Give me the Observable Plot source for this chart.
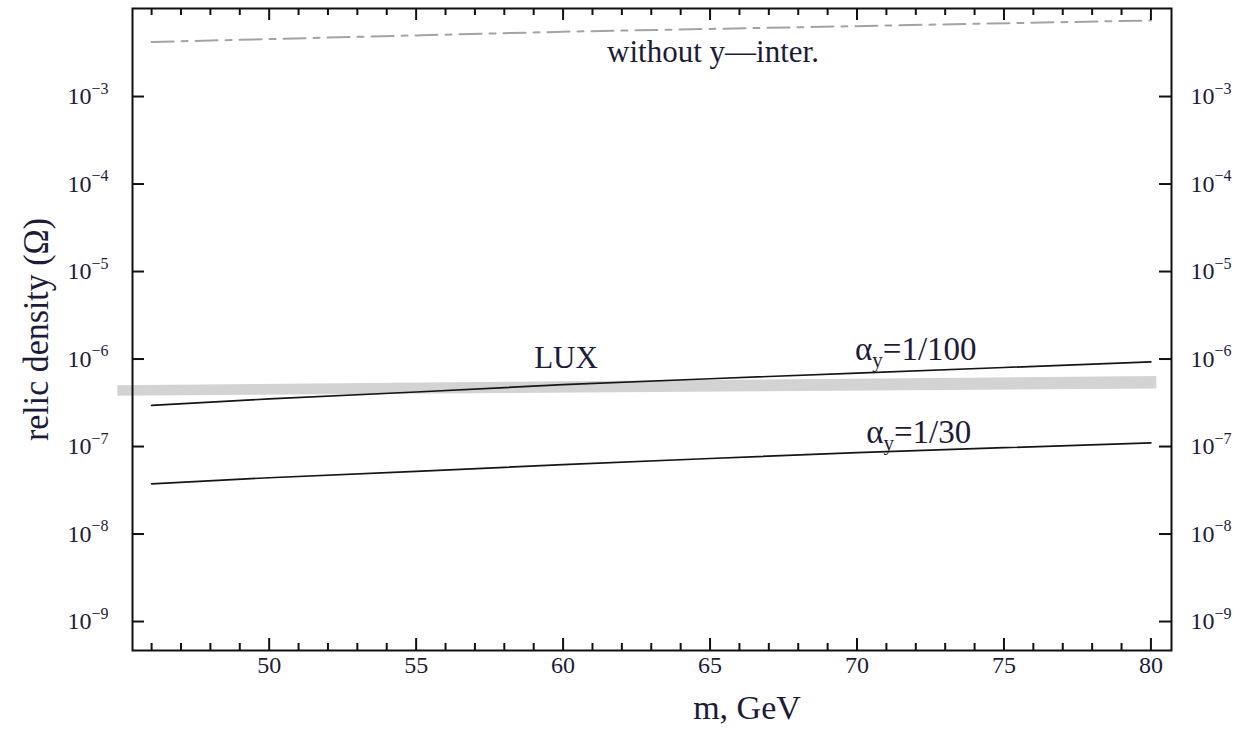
<!DOCTYPE html>
<html><head><meta charset="utf-8">
<script src="https://cdn.jsdelivr.net/npm/d3@7"></script>
<script src="https://cdn.jsdelivr.net/npm/@observablehq/plot@0.6"></script>
<style>
html,body{margin:0;padding:0;background:#fff;}
</style></head><body><div id="chart"></div>
<script>
// ---- data ----
const massGeV = [46, 50, 55, 60, 65, 70, 75, 80];
const omegaAlpha100 = [2.95e-7, 3.5e-7, 4.2e-7, 5.1e-7, 5.95e-7, 6.9e-7, 8.0e-7, 9.3e-7];
const omegaAlpha30 = [3.75e-8, 4.4e-8, 5.2e-8, 6.2e-8, 7.3e-8, 8.5e-8, 9.7e-8, 1.1e-7];
const noYMass = [46, 60, 80];
const omegaNoY = [4.2e-3, 5.5e-3, 7.4e-3];
const luxMass = [44.85, 80.2];
const luxLow = [3.75e-7, 4.55e-7];
const luxHigh = [4.95e-7, 6.3e-7];
const xMajorTicks = [50, 55, 60, 65, 70, 75, 80];
const xMinorTicks = [46, 47, 48, 49, 51, 52, 53, 54, 56, 57, 58, 59, 61, 62, 63, 64, 66, 67, 68, 69, 71, 72, 73, 74, 76, 77, 78, 79];
const yTickExponents = [-3, -4, -5, -6, -7, -8, -9];
const annotationText = ["without y\u2014inter.", "LUX"];
const annotationMass = [65.1, 60.1];
const annotationOmega = [3.2e-3, 1.02e-6];
const alphaText = ["\u03b1_y=1/100", "\u03b1_y=1/30"];
const alphaMass = [72.0, 72.1];
const alphaOmega = [1.28e-6, 1.45e-7];
const xLabel = "m, GeV";
const yLabel = "relic density (\u03a9)";

// ---- derived tables ----
const rows100 = massGeV.map((m, i) => ({m, omega: omegaAlpha100[i]}));
const rows30 = massGeV.map((m, i) => ({m, omega: omegaAlpha30[i]}));
const rowsNoY = noYMass.map((m, i) => ({m, omega: omegaNoY[i]}));
const rowsLux = luxMass.map((m, i) => ({m, lo: luxLow[i], hi: luxHigh[i]}));
const yTicks = yTickExponents.map(e => Math.pow(10, e));
const notes = annotationText.map((t, i) => ({t, m: annotationMass[i], omega: annotationOmega[i]}));
const alphaNotes = alphaText.map((t, i) => ({t, m: alphaMass[i], omega: alphaOmega[i]}));

const W = 1233, H = 738, mL = 132, mR = 62, mT = 8, mB = 88;
const plotW = W - mL - mR, plotH = H - mT - mB;
const serif = "'Liberation Serif', 'Times New Roman', serif";
const ink = "#1d1b38";
const tickStroke = "#111";

const chart = Plot.plot({
  width: W, height: H,
  marginLeft: mL, marginRight: mR, marginTop: mT, marginBottom: mB,
  style: {fontFamily: serif, background: "#fff", overflow: "visible"},
  x: {type: "linear", domain: [45.35, 80.7], axis: null},
  y: {type: "log", domain: [Math.pow(10, -9.331), Math.pow(10, -1.994)], axis: null},
  marks: [
    Plot.areaY(rowsLux, {x: "m", y1: "lo", y2: "hi", fill: "#d3d3d3"}),
    Plot.line(rowsNoY, {x: "m", y: "omega", stroke: "#a3a3a3", strokeWidth: 2, strokeDasharray: "22,8,6,8"}),
    Plot.line(rows100, {x: "m", y: "omega", stroke: "#151515", strokeWidth: 1.7}),
    Plot.line(rows30, {x: "m", y: "omega", stroke: "#151515", strokeWidth: 1.7}),
    // ticks (inward), bottom & top
    Plot.tickX(xMajorTicks, {x: d => d, insetTop: plotH - 12, stroke: tickStroke, strokeWidth: 2}),
    Plot.tickX(xMajorTicks, {x: d => d, insetBottom: plotH - 12, stroke: tickStroke, strokeWidth: 2}),
    Plot.tickX(xMinorTicks, {x: d => d, insetTop: plotH - 7, stroke: tickStroke, strokeWidth: 2}),
    Plot.tickX(xMinorTicks, {x: d => d, insetBottom: plotH - 7, stroke: tickStroke, strokeWidth: 2}),
    // ticks (inward), left & right
    Plot.tickY(yTicks, {y: d => d, insetRight: plotW - 12, stroke: tickStroke, strokeWidth: 2}),
    Plot.tickY(yTicks, {y: d => d, insetLeft: plotW - 12, stroke: tickStroke, strokeWidth: 2}),
    Plot.frame({stroke: "#111", strokeWidth: 2}),
    // x tick labels
    Plot.text(xMajorTicks, {x: d => d, frameAnchor: "bottom", dy: 22, text: d => String(d), fontSize: 24, fill: ink}),
    // y tick labels left
    Plot.text(yTicks, {y: d => d, frameAnchor: "left", dx: -41, textAnchor: "end", text: () => "10", fontSize: 24, fill: ink}),
    Plot.text(yTickExponents, {y: d => Math.pow(10, d), frameAnchor: "left", dx: -41, dy: -8, textAnchor: "start", text: d => "\u2212" + Math.abs(d), fontSize: 16, fill: ink}),
    // y tick labels right
    Plot.text(yTicks, {y: d => d, frameAnchor: "right", dx: 19, textAnchor: "start", text: () => "10", fontSize: 24, fill: ink}),
    Plot.text(yTickExponents, {y: d => Math.pow(10, d), frameAnchor: "right", dx: 43, dy: -8, textAnchor: "start", text: d => "\u2212" + Math.abs(d), fontSize: 16, fill: ink}),
    // annotations
    Plot.text(notes, {x: "m", y: "omega", text: "t", fontSize: 31, fill: ink}),
    Plot.text(alphaNotes, {x: "m", y: "omega", text: "t", fontSize: 33, fill: ink}),
    // axis labels
    Plot.text([xLabel], {frameAnchor: "bottom", textAnchor: "middle", dx: 95, dy: 68, text: d => d, fontSize: 34, fill: ink}),
    Plot.text([yLabel], {frameAnchor: "left", textAnchor: "middle", dx: -96, rotate: -90, text: d => d, fontSize: 35, fill: ink})
  ]
});

// subscript rendering for α_y labels, and length of the y label
d3.select(chart).selectAll("text").each(function() {
  const el = d3.select(this);
  const s = el.text();
  if (s === yLabel) {
    el.attr("textLength", 223).attr("lengthAdjust", "spacingAndGlyphs");
    return;
  }
  const k = s.indexOf("_");
  if (k < 0) return;
  const base = s.slice(0, k), sub = s.charAt(k + 1), rest = s.slice(k + 2);
  el.text(null);
  el.append("tspan").text(base);
  el.append("tspan").attr("dy", 7).attr("font-size", 21).text(sub);
  el.append("tspan").attr("dy", -7).text(rest);
});

document.getElementById("chart").appendChild(chart);
</script>
</body></html>
